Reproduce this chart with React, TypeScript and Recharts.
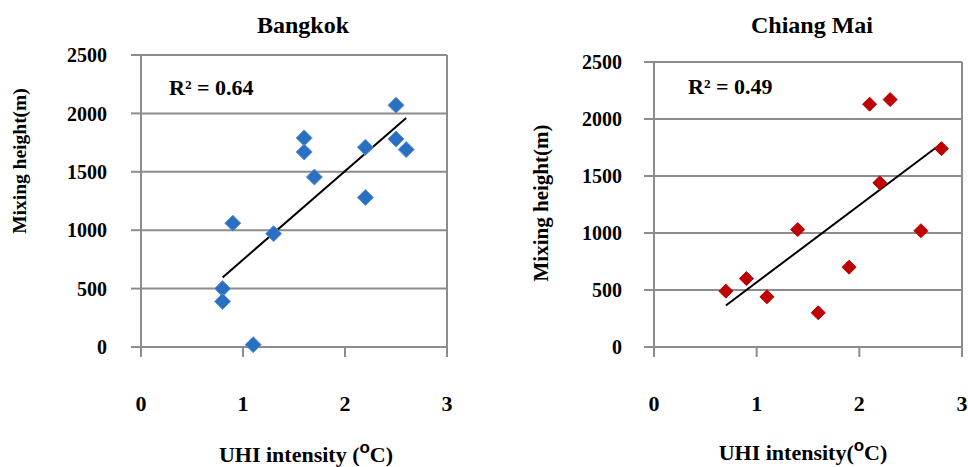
import {
  ReferenceLine,
  CartesianGrid,
  Scatter,
  ScatterChart,
  XAxis,
  YAxis,
} from "recharts";

// UHI intensity (°C) vs mixing height (m)
const bangkokUhi = [2.5, 1.6, 1.6, 2.2, 2.5, 2.6, 1.7, 2.2, 0.9, 1.3, 0.8, 0.8, 1.1];
const bangkokHeight = [2070, 1790, 1670, 1710, 1780, 1690, 1455, 1280, 1060, 970, 500, 390, 20];

const chiangMaiUhi = [0.7, 0.9, 1.1, 1.4, 1.6, 1.9, 2.1, 2.3, 2.2, 2.6, 2.8];
const chiangMaiHeight = [490, 600, 440, 1030, 300, 700, 2130, 2170, 1440, 1020, 1740];

const heightTicks = [0, 500, 1000, 1500, 2000, 2500];
const uhiTicks = [0, 1, 2, 3];

const bangkokR2 = "0.64";
const chiangMaiR2 = "0.49";

const GRID = "#8c8c8c";
const SERIF = "'Liberation Serif', 'Times New Roman', serif";

type Point = { uhi: number; height: number };

function toPoints(xs: number[], ys: number[]): Point[] {
  return xs.map((x, i) => ({ uhi: x, height: ys[i] }));
}

// least-squares line across the x range of the data
function trend(pts: Point[]) {
  const n = pts.length;
  const mx = pts.reduce((s, p) => s + p.uhi, 0) / n;
  const my = pts.reduce((s, p) => s + p.height, 0) / n;
  let sxy = 0;
  let sxx = 0;
  pts.forEach((p) => {
    sxy += (p.uhi - mx) * (p.height - my);
    sxx += (p.uhi - mx) * (p.uhi - mx);
  });
  const b = sxy / sxx;
  const a = my - b * mx;
  const x0 = Math.min(...pts.map((p) => p.uhi));
  const x1 = Math.max(...pts.map((p) => p.uhi));
  return [
    { x: x0, y: a + b * x0 },
    { x: x1, y: a + b * x1 },
  ];
}

function diamond(half: number, fill: string, stroke: string) {
  return (props: any) => {
    const { cx, cy } = props;
    const pts = `${cx},${cy - half} ${cx + half},${cy} ${cx},${cy + half} ${cx - half},${cy}`;
    return <polygon points={pts} fill={fill} stroke={stroke} strokeWidth={1} />;
  };
}

type PanelProps = {
  left: number;
  width: number;
  yAxisWidth: number;
  top: number;
  right: number;
  yTickMargin: number;
  data: Point[];
  shape: (props: any) => any;
};

function Panel({ left, width, yAxisWidth, top, right, yTickMargin, data, shape }: PanelProps) {
  const line = trend(data);
  return (
    <div style={{ position: "absolute", left, top: 0 }}>
      <ScatterChart
        width={width}
        height={467}
        margin={{ top, right, bottom: 60, left: 0 }}
      >
        <CartesianGrid
          vertical={false}
          stroke={GRID}
          strokeWidth={2}
          strokeDasharray=""
        />
        <XAxis
          type="number"
          dataKey="uhi"
          domain={[0, 3]}
          ticks={uhiTicks}
          height={60}
          tickSize={10}
          tickMargin={38}
          axisLine={{ stroke: GRID, strokeWidth: 2 }}
          tickLine={{ stroke: GRID, strokeWidth: 2 }}
          tick={{ fontSize: 22, fontWeight: "bold", fill: "#000", fontFamily: SERIF }}
        />
        <YAxis
          type="number"
          dataKey="height"
          domain={[0, 2500]}
          ticks={heightTicks}
          width={yAxisWidth}
          tickSize={10}
          tickMargin={yTickMargin}
          axisLine={{ stroke: GRID, strokeWidth: 2 }}
          tickLine={{ stroke: GRID, strokeWidth: 2 }}
          tick={{ fontSize: 20, fontWeight: "bold", fill: "#000", fontFamily: SERIF }}
        />
        <ReferenceLine x={3} stroke={GRID} strokeWidth={2} />
        <Scatter data={data} shape={shape} isAnimationActive={false} />
        <ReferenceLine segment={line} stroke="#000" strokeWidth={2} />
      </ScatterChart>
    </div>
  );
}

function Labels() {
  const bold = { fontFamily: SERIF, fontWeight: "bold" as const, fill: "#000" };
  return (
    <svg
      width={968}
      height={467}
      style={{ position: "absolute", left: 0, top: 0, pointerEvents: "none" }}
    >
      <text x={303} y={33} textAnchor="middle" fontSize={24} {...bold}>
        Bangkok
      </text>
      <text x={812} y={33} textAnchor="middle" fontSize={24} {...bold}>
        Chiang Mai
      </text>

      <text x={169} y={95} fontSize={22} {...bold}>
        R² = {bangkokR2}
      </text>
      <text x={688} y={94} fontSize={22} {...bold}>
        R² = {chiangMaiR2}
      </text>

      <text
        transform="translate(26,161) rotate(-90)"
        textAnchor="middle"
        fontSize={19.5}
        {...bold}
      >
        Mixing height(m)
      </text>
      <text
        transform="translate(548,203) rotate(-90)"
        textAnchor="middle"
        fontSize={21}
        {...bold}
      >
        Mixing height(m)
      </text>

      <text x={306} y={462} textAnchor="middle" fontSize={22} {...bold}>
        UHI intensity (
        <tspan fontFamily="'Liberation Sans', Arial, sans-serif" fontSize={17} dy={-9}>
          o
        </tspan>
        <tspan dy={9}>C)</tspan>
      </text>
      <text x={803} y={460} textAnchor="middle" fontSize={22} {...bold}>
        UHI intensity(
        <tspan fontFamily="'Liberation Sans', Arial, sans-serif" fontSize={17} dy={-9}>
          o
        </tspan>
        <tspan dy={9}>C)</tspan>
      </text>
    </svg>
  );
}

export default function App() {
  return (
    <div
      style={{
        position: "absolute",
        left: 0,
        top: 0,
        width: 968,
        height: 467,
        background: "#fff",
      }}
    >
      <Panel
        left={0}
        width={480}
        yAxisWidth={141}
        top={55}
        right={33}
        yTickMargin={24}
        data={toPoints(bangkokUhi, bangkokHeight)}
        shape={diamond(8, "#2a70c2", "#5b95d6")}
      />
      <Panel
        left={484}
        width={484}
        yAxisWidth={170}
        top={62}
        right={6}
        yTickMargin={22}
        data={toPoints(chiangMaiUhi, chiangMaiHeight)}
        shape={diamond(7, "#c00000", "#c00000")}
      />
      <Labels />
    </div>
  );
}
